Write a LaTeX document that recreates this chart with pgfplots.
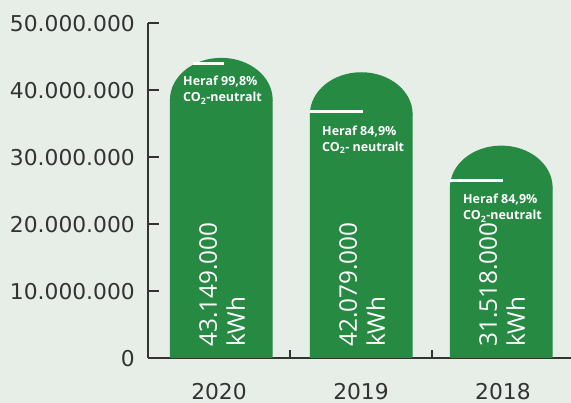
\documentclass[border=0pt]{standalone}
\usepackage{pgfplots}
\pgfplotsset{compat=1.18}
\usepackage{pgfplotstable}
\usepackage{fontspec}
\setmainfont{Open Sans}
\newfontfamily\dejavu{DejaVu Sans}
\definecolor{bg}{HTML}{E7EDE7}
\definecolor{barg}{HTML}{268A43}
\definecolor{txt}{HTML}{333333}

% dome: half ellipse on top of each bar (width = bar width, height 42pt)
\pgfdeclareplotmark{dome}{%
  \pgfpathmoveto{\pgfpoint{-51.35pt}{-1pt}}%
  \pgfpathlineto{\pgfpoint{-51.35pt}{0pt}}%
  \pgfpatharc{180}{0}{51.35pt and 42pt}%
  \pgfpathlineto{\pgfpoint{51.35pt}{-1pt}}%
  \pgfpathclose
  \pgfusepathqfill}

% x, top of the dome, shoulder (where the dome starts)
\pgfplotstableread{
x      top      shoulder
0.0162 44800000 38530000
1.0021 42650000 36380000
1.9880 31700000 25430000
}\bars

\begin{document}
\begin{tikzpicture}
\path[use as bounding box, fill=bg] (0,0) rectangle (571pt,403pt);
\begin{axis}[
  at={(148pt,45pt)}, anchor=south west,
  scale only axis, width=423pt, height=335pt,
  xmin=-0.5, xmax=2.479, ymin=0, ymax=50000000,
  axis lines=left,
  axis line style={-, draw=txt, line width=1.3pt},
  tick align=inside,
  xtick={0,1,2}, xticklabels={2020,2019,2018},
  minor xtick={0.5,1.5},
  ytick={0,10000000,20000000,30000000,40000000,50000000},
  yticklabels={0,10.000.000,20.000.000,30.000.000,40.000.000,50.000.000},
  scaled y ticks=false,
  major tick length=11pt, minor tick length=8pt,
  tick style={draw=txt, line width=1.3pt},
  every major x tick/.append style={draw=none},
  tick label style={font=\dejavu\fontsize{21.8}{26}\selectfont, text=txt, inner sep=0pt},
  yticklabel style={anchor=east, xshift=-13pt, yshift=-1pt},
  xticklabel style={anchor=north, yshift=-25.5pt},
  clip marker paths=true,
]
\addplot[ybar, bar width=102.7pt, bar shift=0pt, fill=barg, draw=none] table[x=x, y=shoulder]{\bars};
\addplot[only marks, mark=dome, mark options={fill=barg, draw=none}] table[x=x, y=shoulder]{\bars};

\addplot[white, line width=3pt] coordinates {(-0.183,44000000) (0.035,44000000)};
\addplot[white, line width=3pt] coordinates {(0.641,36720000) (1.014,36720000)};
\addplot[white, line width=3pt] coordinates {(1.627,26420000) (2.000,26420000)};

\tikzset{lab/.style={anchor=base west, inner sep=0pt, text=white, font=\bfseries\fontsize{12.5}{15}\selectfont}}
\node[lab] at (axis cs:-0.2535,40597000) {Heraf 99,8\%};
\node[lab, yshift=-16pt] at (axis cs:-0.2535,40597000) {CO\textsubscript{2}-neutralt};
\node[lab] at (axis cs:0.7254,33280000) {Heraf 84,9\%};
\node[lab, yshift=-16pt] at (axis cs:0.7254,33280000) {CO\textsubscript{2}- neutralt};
\node[lab] at (axis cs:1.7183,22985000) {Heraf 84,9\%};
\node[lab, yshift=-16pt] at (axis cs:1.7183,22985000) {CO\textsubscript{2}-neutralt};

\tikzset{num/.style={anchor=base west, inner sep=0pt, text=white, font=\fontsize{24.3}{29}\selectfont}}
\node[xshift=-4.3pt, yshift=11pt, rotate=90, num] at (axis cs:0.0162,0) {43.149.000};
\node[xshift=23.7pt, yshift=11pt, rotate=90, num] at (axis cs:0.0162,0) {kWh};
\node[xshift=-4.3pt, yshift=11pt, rotate=90, num] at (axis cs:1.0021,0) {42.079.000};
\node[xshift=23.7pt, yshift=11pt, rotate=90, num] at (axis cs:1.0021,0) {kWh};
\node[xshift=-4.3pt, yshift=11pt, rotate=90, num] at (axis cs:1.9880,0) {31.518.000};
\node[xshift=23.7pt, yshift=11pt, rotate=90, num] at (axis cs:1.9880,0) {kWh};
\end{axis}
\end{tikzpicture}
\end{document}
